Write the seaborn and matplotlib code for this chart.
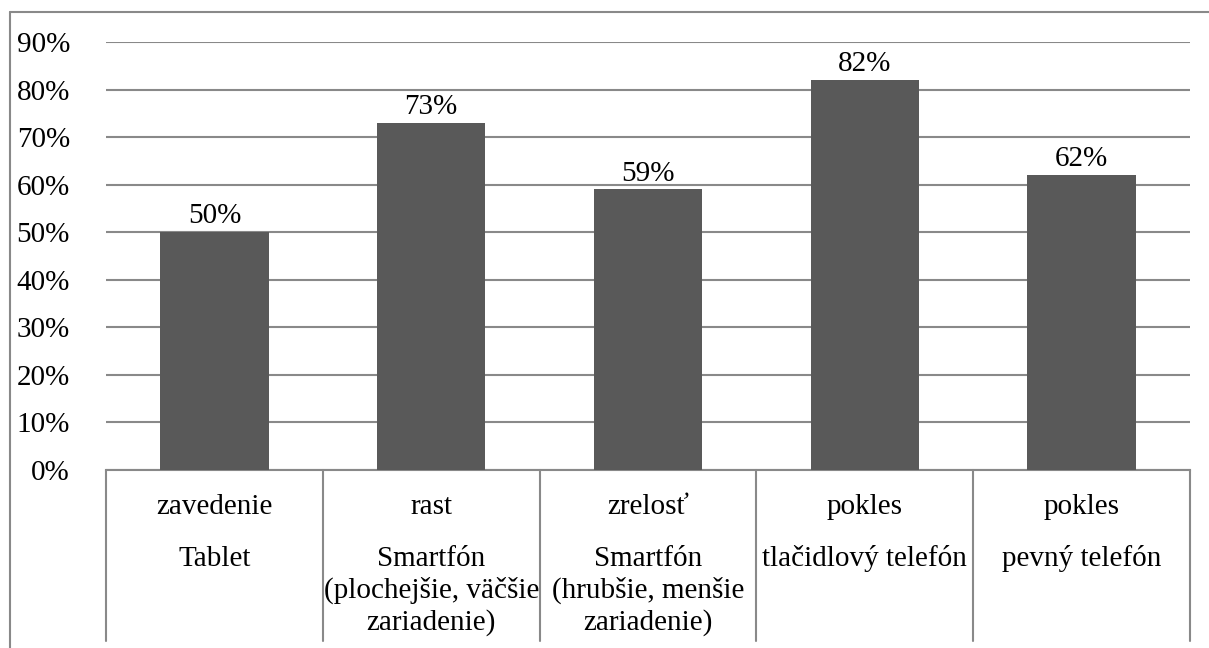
import matplotlib
matplotlib.use("Agg")
import matplotlib.pyplot as plt
import matplotlib.transforms as mtransforms
from matplotlib.lines import Line2D
import seaborn as sns
import pandas as pd

# Product life-cycle phases and the devices placed in each phase
phases = ["zavedenie", "rast", "zrelosť", "pokles", "pokles"]
devices = [
    ["Tablet"],
    ["Smartfón", "(plochejšie, väčšie", "zariadenie)"],
    ["Smartfón", "(hrubšie, menšie", "zariadenie)"],
    ["tlačidlový telefón"],
    ["pevný telefón"],
]
values = [50, 73, 59, 82, 62]
yticks = [0, 10, 20, 30, 40, 50, 60, 70, 80, 90]

sns.set_theme(style="white")
SERIF = "Liberation Serif"
plt.rcParams["font.family"] = SERIF

W, H = 1209, 648
fig = plt.figure(figsize=(W / 100, H / 100), dpi=100)

# plot area in pixel terms
left_px, right_px, top_px, bottom_px = 106, 1190, 42, 470
ax = fig.add_axes([left_px / W, 1 - bottom_px / H,
                   (right_px - left_px) / W, (bottom_px - top_px) / H])

gray = "#898989"
bar_color = "#595959"
fs = 21
txt = dict(fontsize=fs, color="black", family=SERIF)

df = pd.DataFrame({"key": [str(i) for i in range(len(values))], "value": values})
sns.barplot(data=df, x="key", y="value", color=bar_color, width=0.5,
            saturation=1, linewidth=0, edgecolor="none", ax=ax, zorder=3)

ax.set_ylim(0, 90)
ax.set_xlim(-0.5, len(values) - 0.5)
ax.set_yticks(yticks)
ax.set_yticklabels([f"{v}%" for v in yticks], **txt)
ax.tick_params(axis="y", length=0, pad=26)
ax.set_xticks([])
ax.set_xlabel("")
ax.set_ylabel("")
ax.grid(axis="y", color=gray, linewidth=1.5, zorder=0)
ax.set_axisbelow(True)
for side in ["left", "right", "top"]:
    ax.spines[side].set_visible(False)
ax.spines["bottom"].set_color(gray)
ax.spines["bottom"].set_linewidth(1.5)

# value labels on bars
for cont in ax.containers:
    ax.bar_label(cont, labels=[f"{v}%" for v in values], padding=2, **txt)

# multi-level category axis
tr = mtransforms.blended_transform_factory(ax.transData, fig.transFigure)
for i, (ph, dev) in enumerate(zip(phases, devices)):
    ax.text(i, 1 - 514 / H, ph, transform=tr, ha="center", va="baseline",
            clip_on=False, **txt)
    for j, line in enumerate(dev):
        ax.text(i, 1 - (566 + 32 * j) / H, line, transform=tr, ha="center",
                va="baseline", clip_on=False, **txt)

for b in range(len(values) + 1):
    ax.add_line(Line2D([b - 0.5, b - 0.5], [1 - bottom_px / H, 1 - 641 / H],
                       transform=tr, color=gray, linewidth=1.5, clip_on=False))

# outer chart frame
fig.add_artist(Line2D([10 / W, 10 / W], [0, 1 - 12 / H], transform=fig.transFigure,
                      color=gray, linewidth=1.5))
fig.add_artist(Line2D([10 / W, 1], [1 - 12 / H, 1 - 12 / H], transform=fig.transFigure,
                      color=gray, linewidth=1.5))

fig.savefig("out.png", dpi=100)
